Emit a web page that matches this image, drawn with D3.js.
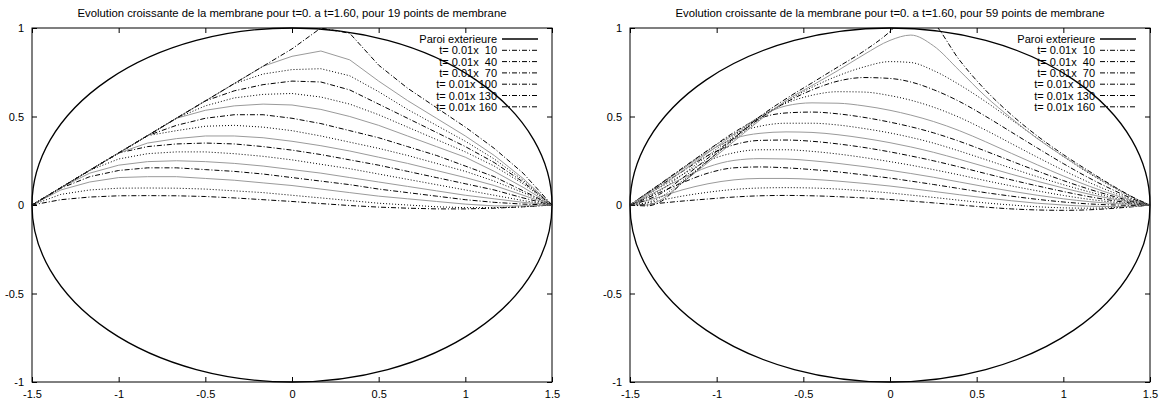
<!DOCTYPE html>
<html><head><meta charset="utf-8">
<script src="https://cdn.jsdelivr.net/npm/d3@7"></script>
<style>
body{margin:0;background:#fff}
svg text{font-family:"Liberation Sans",Arial,Helvetica,sans-serif;fill:#000}
</style>
</head><body>
<svg id="chart" width="1168" height="405"></svg>
<script>
// ---------- data ----------
const titles = [
  "Evolution croissante de la membrane pour t=0. a t=1.60, pour 19 points de membrane",
  "Evolution croissante de la membrane pour t=0. a t=1.60, pour 59 points de membrane"
];
const wallLabel = "Paroi exterieure";
const wallSemiAxes = [1.5, 1];
const timeSteps = [10,20,30,40,50,60,70,80,90,100,110,120,130,140,150,160];
const legendSteps = [10,40,70,100,130,160];
const xTicks = [-1.5,-1,-0.5,0,0.5,1,1.5];
const yTicks = [-1,-0.5,0,0.5,1];
// style of each curve (dd = dash-dot, dot = dotted, gray = grey fine line)
const curveStyles = ["dd","dot","gray","dd","gray","dot","dd","gray","dot","dd","gray","dot","dd","dot","gray","dd"];

// left panel: 19 nodes
const xLeft = [-1.5,-1.3333,-1.1667,-1,-0.8333,-0.6667,-0.5,-0.3333,-0.1667,0,0.1667,0.3333,0.5,0.6667,0.8333,1,1.1667,1.3333,1.5];
const L010 = [0,0.03,0.045,0.052,0.053,0.052,0.048,0.04,0.03,0.02,0.008,-0.003,-0.012,-0.018,-0.022,-0.022,-0.018,-0.01,0];
const L020 = [0,0.06,0.085,0.095,0.096,0.095,0.09,0.08,0.07,0.055,0.04,0.025,0.01,0,-0.01,-0.015,-0.015,-0.01,0];
const L030 = [0,0.085,0.13,0.155,0.16,0.16,0.15,0.14,0.125,0.11,0.09,0.07,0.05,0.035,0.02,0.005,-0.005,-0.005,0];
const L040 = [0,0.095,0.16,0.195,0.21,0.21,0.2,0.19,0.175,0.155,0.135,0.115,0.09,0.07,0.05,0.03,0.015,0.005,0];
const L050 = [0,0.098,0.18,0.225,0.245,0.25,0.245,0.235,0.22,0.2,0.18,0.155,0.13,0.105,0.08,0.055,0.035,0.015,0];
const L060 = [0,0.098,0.196,0.26,0.29,0.3,0.3,0.29,0.275,0.255,0.23,0.205,0.175,0.145,0.115,0.085,0.055,0.025,0];
const L070 = [0,0.098,0.196,0.294,0.33,0.345,0.35,0.345,0.33,0.31,0.285,0.255,0.225,0.19,0.155,0.12,0.085,0.04,0];
const L080 = [0,0.098,0.196,0.294,0.35,0.375,0.39,0.39,0.38,0.36,0.335,0.305,0.27,0.235,0.195,0.155,0.11,0.055,0];
const L090 = [0,0.098,0.196,0.294,0.392,0.42,0.445,0.45,0.44,0.42,0.39,0.355,0.32,0.28,0.235,0.19,0.135,0.07,0];
const L100 = [0,0.098,0.196,0.294,0.392,0.45,0.49,0.51,0.51,0.49,0.46,0.42,0.38,0.33,0.28,0.22,0.16,0.08,0];
const L110 = [0,0.098,0.196,0.294,0.392,0.49,0.535,0.56,0.57,0.565,0.54,0.5,0.45,0.39,0.33,0.27,0.19,0.1,0];
const L120 = [0,0.098,0.196,0.294,0.392,0.49,0.56,0.605,0.625,0.63,0.61,0.57,0.51,0.44,0.37,0.3,0.22,0.12,0];
const L130 = [0,0.098,0.196,0.294,0.392,0.49,0.588,0.645,0.68,0.7,0.695,0.65,0.57,0.49,0.41,0.33,0.24,0.13,0];
const L140 = [0,0.098,0.196,0.294,0.392,0.49,0.588,0.686,0.74,0.765,0.77,0.73,0.64,0.54,0.45,0.36,0.26,0.14,0];
const L150 = [0,0.098,0.196,0.294,0.392,0.49,0.588,0.686,0.784,0.84,0.87,0.82,0.7,0.59,0.49,0.39,0.28,0.15,0];
const L160 = [0,0.098,0.196,0.294,0.392,0.49,0.588,0.686,0.784,0.882,1.0,0.97,0.79,0.66,0.55,0.44,0.32,0.18,0];

// right panel: sampled nodes of the 59-point membrane
const xRight = [-1.5,-1.4,-1.33,-1.2,-1.05,-0.9,-0.75,-0.6,-0.45,-0.3,-0.15,0,0.12,0.25,0.4,0.55,0.7,0.85,1,1.15,1.3,1.42,1.5];
const R010 = [0,0.004,0.01,0.022,0.034,0.045,0.052,0.054,0.052,0.047,0.04,0.031,0.022,0.012,0,-0.012,-0.022,-0.028,-0.03,-0.027,-0.018,-0.008,0];
const R020 = [0,0.012,0.025,0.05,0.072,0.088,0.096,0.098,0.096,0.09,0.08,0.068,0.056,0.043,0.027,0.012,0,-0.01,-0.016,-0.018,-0.014,-0.007,0];
const R030 = [0,0.025,0.045,0.085,0.12,0.142,0.15,0.15,0.145,0.135,0.122,0.107,0.093,0.077,0.058,0.04,0.024,0.01,0,-0.007,-0.009,-0.006,0];
const R040 = [0,0.04,0.07,0.125,0.18,0.21,0.215,0.21,0.2,0.187,0.17,0.152,0.135,0.116,0.093,0.07,0.05,0.032,0.017,0.006,0,-0.002,0];
const R050 = [0,0.05,0.085,0.15,0.215,0.252,0.262,0.26,0.25,0.235,0.217,0.196,0.178,0.157,0.13,0.103,0.078,0.055,0.035,0.019,0.008,0.002,0];
const R060 = [0,0.058,0.097,0.17,0.25,0.295,0.312,0.312,0.303,0.288,0.268,0.245,0.225,0.2,0.17,0.138,0.108,0.08,0.054,0.032,0.015,0.005,0];
const R070 = [0,0.064,0.107,0.188,0.28,0.34,0.365,0.367,0.36,0.345,0.325,0.3,0.277,0.25,0.215,0.178,0.142,0.108,0.076,0.047,0.023,0.008,0];
const R080 = [0,0.067,0.113,0.2,0.3,0.375,0.405,0.413,0.41,0.397,0.377,0.352,0.328,0.298,0.258,0.216,0.174,0.134,0.096,0.061,0.031,0.011,0];
const R090 = [0,0.069,0.116,0.205,0.308,0.4,0.445,0.462,0.462,0.452,0.432,0.407,0.382,0.35,0.305,0.257,0.208,0.16,0.115,0.074,0.038,0.013,0];
const R100 = [0,0.069,0.117,0.207,0.31,0.41,0.49,0.52,0.525,0.515,0.495,0.468,0.442,0.408,0.36,0.305,0.248,0.192,0.138,0.089,0.046,0.016,0];
const R110 = [0,0.06,0.1,0.19,0.295,0.4,0.5,0.56,0.577,0.575,0.56,0.535,0.508,0.472,0.42,0.358,0.292,0.227,0.164,0.106,0.055,0.019,0];
const R120 = [0,0.045,0.08,0.17,0.28,0.39,0.5,0.575,0.62,0.64,0.638,0.618,0.592,0.553,0.495,0.424,0.347,0.27,0.196,0.127,0.066,0.023,0];
const R130 = [0,0.03,0.06,0.15,0.265,0.38,0.49,0.58,0.65,0.7,0.72,0.715,0.695,0.652,0.585,0.502,0.412,0.322,0.234,0.152,0.079,0.027,0];
const R140 = [0,0.015,0.04,0.135,0.25,0.37,0.485,0.585,0.665,0.73,0.78,0.81,0.805,0.76,0.68,0.585,0.482,0.377,0.274,0.178,0.093,0.032,0];
const R150 = [0,0,0.025,0.125,0.24,0.36,0.48,0.59,0.675,0.76,0.85,0.93,0.96,0.9,0.76,0.615,0.49,0.375,0.275,0.182,0.097,0.034,0];
const R160 = [0,-0.005,0.015,0.124,0.25,0.377,0.5,0.6,0.69,0.78,0.87,0.98,1.1,1.03,0.82,0.65,0.51,0.39,0.285,0.19,0.1,0.035,0];

const leftSeries = [L010,L020,L030,L040,L050,L060,L070,L080,L090,L100,L110,L120,L130,L140,L150,L160];
const rightSeries = [R010,R020,R030,R040,R050,R060,R070,R080,R090,R100,R110,R120,R130,R140,R150,R160];

// ---------- drawing ----------
const svg = d3.select("#chart");
const styleMap = {
  dd:   {stroke:"#000", dash:"5,2,1,2", width:1},
  dot:  {stroke:"#000", dash:"1,2", width:1},
  gray: {stroke:"#9a9a9a", dash:null, width:1}
};
const fmt = d => String(d);

function panel(idx, left, right, xs, series, curve) {
  const top = 28, bottom = 382;
  const x = d3.scaleLinear().domain([-1.5,1.5]).range([left,right]);
  const y = d3.scaleLinear().domain([-1,1]).range([bottom,top]);
  const g = svg.append("g");

  g.append("text").attr("x",(left+right)/2).attr("y",16.5)
    .attr("text-anchor","middle").style("font-size","11.3px").text(titles[idx]);

  const cid = "clip"+idx;
  g.append("clipPath").attr("id",cid).append("rect")
    .attr("x",left).attr("y",top).attr("width",right-left).attr("height",bottom-top);

  const ax = [
    d3.axisBottom(x).tickValues(xTicks).tickFormat(fmt).tickSizeInner(-5).tickSizeOuter(0).tickPadding(8),
    d3.axisTop(x).tickValues(xTicks).tickFormat("").tickSizeInner(-5).tickSizeOuter(0),
    d3.axisLeft(y).tickValues(yTicks).tickFormat(fmt).tickSizeInner(-5).tickSizeOuter(0).tickPadding(8),
    d3.axisRight(y).tickValues(yTicks).tickFormat("").tickSizeInner(-5).tickSizeOuter(0)
  ];
  const tr = [`translate(0,${bottom})`,`translate(0,${top})`,`translate(${left},0)`,`translate(${right},0)`];
  ax.forEach((a,i)=>{
    const ag = g.append("g").attr("transform",tr[i]).call(a);
    ag.select(".domain").remove();
    ag.selectAll("line").attr("stroke","#000");
    ag.selectAll("text").style("font-size","11px").attr("fill","#000").style("font-family",'"Liberation Sans",Arial,sans-serif');
  });

  g.append("ellipse")
    .attr("cx",x(0)).attr("cy",y(0))
    .attr("rx",x(wallSemiAxes[0])-x(0)).attr("ry",y(0)-y(wallSemiAxes[1]))
    .attr("fill","none").attr("stroke","#000").attr("stroke-width",1.3);

  const line = d3.line().x((d,i)=>x(xs[i])).y(d=>y(d)).curve(curve);
  const cg = g.append("g").attr("clip-path",`url(#${cid})`);
  series.forEach((s,k)=>{
    const st = styleMap[curveStyles[k]];
    cg.append("path").attr("d",line(s)).attr("fill","none")
      .attr("stroke",st.stroke).attr("stroke-width",st.width)
      .attr("stroke-dasharray",st.dash);
  });

  g.append("rect").attr("x",left).attr("y",top).attr("width",right-left).attr("height",bottom-top)
    .attr("fill","none").attr("stroke","#000").attr("stroke-width",1);

  const rows = [wallLabel].concat(legendSteps.map(t => "t= 0.01x " + String(t).padStart(3," ")));
  rows.forEach((lab,i)=>{
    const ry = 39 + i*11.3;
    g.append("text").attr("x",right-55).attr("y",ry+4).attr("text-anchor","end")
      .style("font-size","11px").style("white-space","pre").text(lab);
    const ln = g.append("line").attr("x1",right-50).attr("x2",right-14).attr("y1",ry).attr("y2",ry)
      .attr("stroke","#000");
    if(i===0) ln.attr("stroke-width",1.3);
    else ln.attr("stroke-width",1).attr("stroke-dasharray",styleMap.dd.dash);
  });
}

panel(0, 32, 552, xLeft, leftSeries, d3.curveLinear);
panel(1, 630, 1150, xRight, rightSeries, d3.curveMonotoneX);
</script>
</body></html>
